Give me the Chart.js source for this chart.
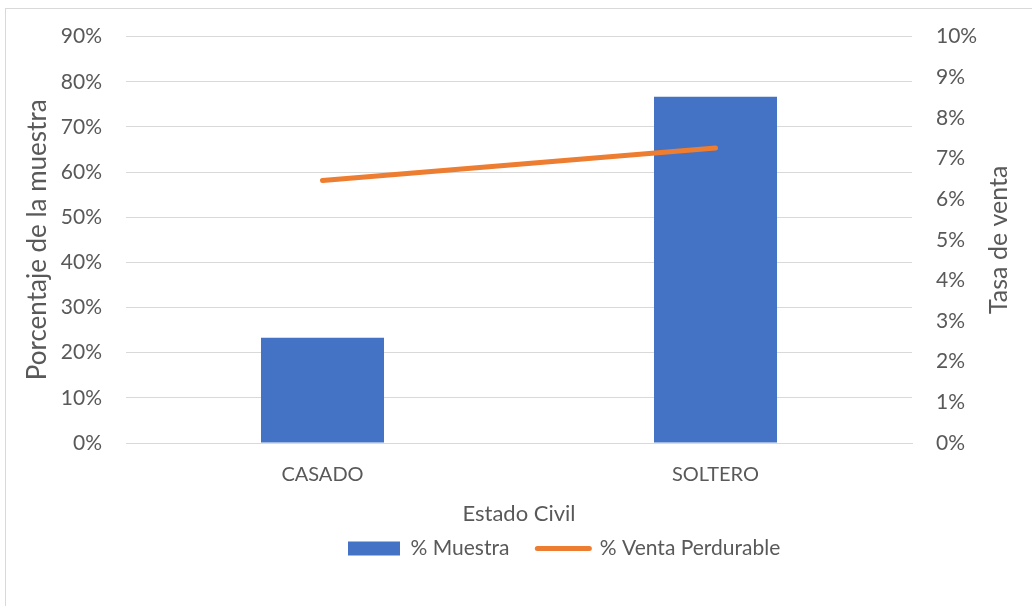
<!DOCTYPE html>
<html lang="es">
<head>
<meta charset="utf-8">
<title>Estado Civil</title>
<script src="https://cdn.jsdelivr.net/npm/chart.js@4/dist/chart.umd.min.js"></script>
<style>
  html, body { margin: 0; padding: 0; background: #ffffff; }
  #wrap { position: relative; width: 1032px; height: 606px; }
  #frame { position: absolute; left: 5px; top: 8px; right: 0; bottom: 0;
           border-left: 1px solid #d9d9d9; border-top: 1px solid #d9d9d9; pointer-events: none; }
  canvas { position: absolute; left: 0; top: 0; }
</style>
</head>
<body>
<div id="wrap">
  <canvas id="chart" width="1032" height="606"></canvas>
  <div id="frame"></div>
</div>
<script>
// Categories and series (percent units)
const categories = ['CASADO', 'SOLTERO'];
const muestra = [23.3, 76.7];            // % Muestra (left axis)
const ventaPerdurable = [6.46, 7.26];    // % Venta Perdurable (right axis)

const leftTicks = [0, 10, 20, 30, 40, 50, 60, 70, 80, 90];
const rightTicks = [0, 1, 2, 3, 4, 5, 6, 7, 8, 9, 10];

const xTitle = 'Estado Civil';
const leftTitle = 'Porcentaje de la muestra';
const rightTitle = 'Tasa de venta';

const FONT = "Lato, 'Open Sans', 'DejaVu Sans', sans-serif";
const TEXT = '#595959';
const BLUE = '#4472C4';
const ORANGE = '#ED7D31';
const GRID = '#d9d9d9';

// Right-hand axis title, read bottom-to-top like the left one
const rightTitlePlugin = {
  id: 'rightTitle',
  afterDraw(chart) {
    const { ctx, chartArea } = chart;
    ctx.save();
    ctx.font = '25px ' + FONT;
    ctx.fillStyle = TEXT;
    ctx.textAlign = 'center';
    ctx.textBaseline = 'middle';
    ctx.translate(999, (chartArea.top + chartArea.bottom) / 2);
    ctx.rotate(-Math.PI / 2);
    ctx.fillText(rightTitle, 0, 0);
    ctx.restore();
  }
};

// Start the legend row under the plot rather than at the canvas edge
const legendOffsetPlugin = {
  id: 'legendOffset',
  afterLayout(chart) {
    const lg = chart.legend;
    if (!lg) return;
    const dx = 348 - (lg.left + lg.options.labels.padding);
    lg.left += dx;
    lg.right += dx;
  }
};

new Chart(document.getElementById('chart'), {
  data: {
    labels: categories,
    datasets: [
      {
        type: 'bar',
        label: '% Muestra',
        data: muestra,
        backgroundColor: BLUE,
        borderWidth: 0,
        yAxisID: 'y',
        categoryPercentage: 1,
        barPercentage: 0.313,
        order: 1
      },
      {
        type: 'line',
        label: '% Venta Perdurable',
        data: ventaPerdurable,
        borderColor: ORANGE,
        backgroundColor: ORANGE,
        borderWidth: 5,
        borderCapStyle: 'round',
        pointRadius: 0,
        pointHoverRadius: 0,
        tension: 0,
        yAxisID: 'y1',
        order: 0
      }
    ]
  },
  plugins: [rightTitlePlugin, legendOffsetPlugin],
  options: {
    responsive: false,
    animation: false,
    events: [],
    layout: { padding: { top: 31.5, bottom: 37, left: 0, right: 0 } },
    plugins: {
      tooltip: { enabled: false },
      legend: {
        position: 'bottom',
        align: 'start',
        labels: {
          color: TEXT,
          font: { family: FONT, size: 21 },
          usePointStyle: true,
          pointStyleWidth: 52,
          boxHeight: 14,
          padding: 28,
          sort: (a, b) => a.datasetIndex - b.datasetIndex,
          generateLabels(chart) {
            const items = Chart.defaults.plugins.legend.labels.generateLabels(chart);
            items.forEach(it => {
              if (it.datasetIndex === 0) {
                it.pointStyle = 'rect';
                it.lineWidth = 0;
                it.fillStyle = BLUE;
                it.strokeStyle = BLUE;
              } else {
                it.pointStyle = 'line';
                it.lineWidth = 5;
                it.lineCap = 'round';
                it.strokeStyle = ORANGE;
                it.fillStyle = ORANGE;
              }
            });
            return items;
          }
        }
      }
    },
    scales: {
      x: {
        grid: { display: false, drawTicks: false },
        border: { display: true, color: GRID, width: 1 },
        ticks: { color: TEXT, font: { family: FONT, size: 20 }, padding: 20 },
        title: {
          display: true,
          text: xTitle,
          color: TEXT,
          font: { family: FONT, size: 22 },
          padding: { top: 0, bottom: -16.7 }
        },
        afterFit(scale) { scale.height = 67; }
      },
      y: {
        position: 'left',
        min: 0,
        max: 90,
        afterBuildTicks(scale) { scale.ticks = leftTicks.map(v => ({ value: v })); },
        grid: { color: GRID, lineWidth: 1, drawTicks: false },
        border: { display: false },
        ticks: {
          color: TEXT,
          font: { family: FONT, size: 21 },
          padding: 24,
          callback: v => v + '%'
        },
        title: {
          display: true,
          text: leftTitle,
          color: TEXT,
          font: { family: FONT, size: 26 },
          padding: { top: 22.4, bottom: 0 }
        },
        afterFit(scale) { scale.width = 126; }
      },
      y1: {
        position: 'right',
        min: 0,
        max: 10,
        afterBuildTicks(scale) { scale.ticks = rightTicks.map(v => ({ value: v })); },
        grid: { display: false, drawTicks: false },
        border: { display: false },
        ticks: {
          color: TEXT,
          font: { family: FONT, size: 21 },
          padding: 24,
          callback: v => v + '%'
        },
        title: { display: false },
        afterFit(scale) { scale.width = 120; }
      }
    }
  }
});
</script>
</body>
</html>
